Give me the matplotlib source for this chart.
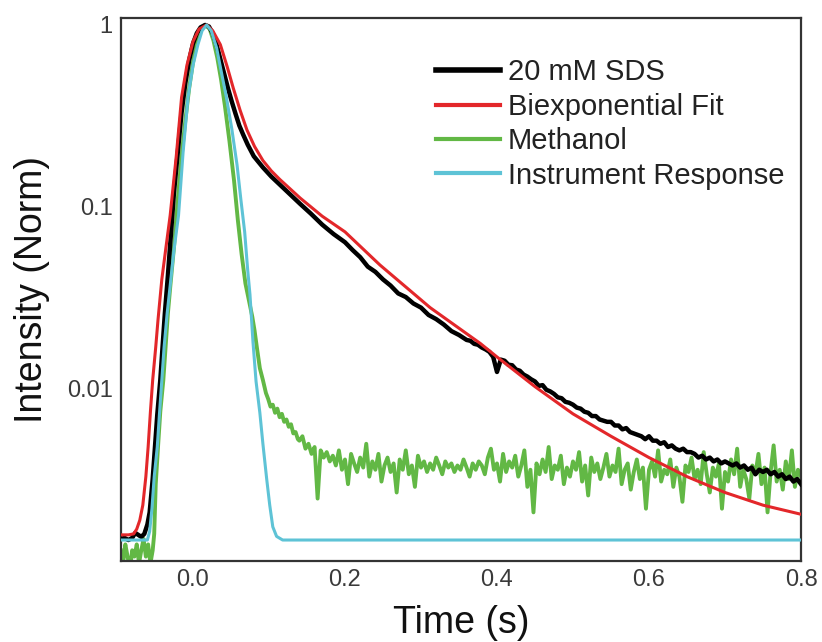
import numpy as np
import matplotlib
matplotlib.use("Agg")
import matplotlib.pyplot as plt
from matplotlib.ticker import FixedLocator, FixedFormatter, NullLocator

plt.rcParams['font.family'] = ['Liberation Sans', 'DejaVu Sans']

# ---------------- data ----------------
# 20 mM SDS (black): rise + early decay
sds_t_front = [-0.095, -0.090, -0.085, -0.080, -0.076, -0.072, -0.068, -0.064, -0.060, -0.057,
               -0.053, -0.050, -0.047, -0.043, -0.040, -0.037, -0.033, -0.030, -0.025, -0.020,
               -0.015, -0.010, -0.005, 0.000, 0.005, 0.010, 0.016, 0.021, 0.026, 0.031,
               0.036, 0.041, 0.046, 0.051, 0.056, 0.061, 0.066, 0.072, 0.080, 0.092,
               0.103, 0.114, 0.127, 0.141, 0.155, 0.170, 0.185]
sds_i_front = [0.00150, 0.00152, 0.00148, 0.00152, 0.00162, 0.00158, 0.00154, 0.00160, 0.00180, 0.0021,
               0.0032, 0.0048, 0.0072, 0.0112, 0.017, 0.026, 0.042, 0.062, 0.12, 0.20,
               0.33, 0.48, 0.64, 0.79, 0.90, 0.97, 1.0, 0.98, 0.90, 0.78,
               0.65, 0.54, 0.45, 0.38, 0.325, 0.28, 0.25, 0.22, 0.19, 0.165,
               0.147, 0.133, 0.118, 0.104, 0.092, 0.080, 0.071]
sds_t_mid = [0.20, 0.21, 0.22, 0.23, 0.24, 0.25, 0.26, 0.27, 0.28, 0.29, 0.30, 0.31, 0.32, 0.33, 0.34]
sds_i_mid = [0.064, 0.058, 0.053, 0.047, 0.044, 0.040, 0.037, 0.0335, 0.032, 0.0295,
             0.028, 0.0255, 0.0242, 0.0226, 0.0208]
# tail sampled every 5 ms from 0.35 s to 0.80 s
sds_i_tail = [0.0198, 0.0192, 0.0186, 0.0184, 0.0177, 0.0175, 0.0169, 0.0165, 0.0160, 0.0150,
              0.0124, 0.0145, 0.0143, 0.0136, 0.0135, 0.0128, 0.0126, 0.0120, 0.0117, 0.0113,
              0.0110, 0.0104, 0.0105, 0.0099, 0.0097, 0.0094, 0.0090, 0.0089, 0.0085, 0.0084,
              0.0082, 0.0079, 0.0078, 0.0075, 0.0074, 0.0071, 0.0071, 0.0068, 0.0067, 0.0066,
              0.0066, 0.0063, 0.0063, 0.0060, 0.0061, 0.0058, 0.0057, 0.0056, 0.0055, 0.0053,
              0.0055, 0.0052, 0.0052, 0.0050, 0.0051, 0.0048, 0.0049, 0.0047, 0.0046, 0.0047,
              0.0045, 0.0045, 0.0044, 0.0042, 0.0043, 0.0041, 0.0042, 0.0040, 0.0041, 0.0039,
              0.0040, 0.0039, 0.0038, 0.0039, 0.0037, 0.0038, 0.0036, 0.0037, 0.0034, 0.0036,
              0.0035, 0.0036, 0.0034, 0.0035, 0.0033, 0.0034, 0.0032, 0.0033, 0.0031, 0.0032,
              0.0030]

# Biexponential fit (red)
fit_t = [-0.095, -0.085, -0.078, -0.074, -0.070, -0.066, -0.062, -0.059, -0.056, -0.053,
         -0.049, -0.046, -0.041, -0.036, -0.030, -0.022, -0.015, -0.008, 0.000, 0.008,
         0.018, 0.026, 0.036, 0.045, 0.053, 0.062, 0.071, 0.081, 0.092, 0.103,
         0.114, 0.141, 0.170, 0.200, 0.246, 0.312, 0.378, 0.400, 0.450, 0.500,
         0.550, 0.600, 0.650, 0.700, 0.750, 0.800]
fit_i = [0.00158, 0.00158, 0.00160, 0.00170, 0.0019, 0.0023, 0.0033, 0.0048, 0.0075, 0.0112,
         0.017, 0.024, 0.040, 0.058, 0.090, 0.19, 0.40, 0.60, 0.81, 0.95,
         1.0, 0.93, 0.78, 0.59, 0.45, 0.34, 0.265, 0.215, 0.180, 0.158,
         0.142, 0.112, 0.089, 0.073, 0.048, 0.028, 0.0178, 0.0150, 0.0103, 0.0073,
         0.0055, 0.0042, 0.0033, 0.0027, 0.0023, 0.00205]

# Methanol (green): baseline + rise + fast decay
meoh_t_front = [-0.095, -0.092, -0.089, -0.086, -0.083, -0.080, -0.077, -0.074, -0.071, -0.068,
                -0.065, -0.062, -0.059, -0.056, -0.053, -0.051, -0.049, -0.046, -0.043, -0.039,
                -0.036, -0.033, -0.030, -0.025, -0.020, -0.015, -0.010, -0.005, 0.000, 0.005,
                0.010, 0.016, 0.022, 0.027, 0.032, 0.037, 0.042, 0.048, 0.054, 0.059,
                0.064, 0.069, 0.074, 0.078, 0.081, 0.084, 0.088, 0.092, 0.096, 0.099,
                0.102, 0.105, 0.108, 0.111, 0.114, 0.117, 0.120, 0.123, 0.126, 0.129,
                0.132, 0.135, 0.138]
meoh_i_front = [0.0013, 0.0011, 0.0014, 0.0012, 0.0010, 0.0013, 0.0012, 0.0014, 0.0011, 0.0013,
                0.0015, 0.0012, 0.0014, 0.0011, 0.0013, 0.0016, 0.0030, 0.0048, 0.0075, 0.0112,
                0.017, 0.026, 0.036, 0.060, 0.11, 0.19, 0.30, 0.45, 0.62, 0.80,
                0.93, 1.0, 0.95, 0.82, 0.66, 0.50, 0.36, 0.23, 0.14, 0.085,
                0.055, 0.038, 0.030, 0.025, 0.021, 0.017, 0.0130, 0.0112, 0.0095, 0.0088,
                0.0080, 0.0082, 0.0074, 0.0078, 0.0070, 0.0073, 0.0066, 0.0068, 0.0062, 0.0064,
                0.0057, 0.0058, 0.0053]
# tail sampled every 4 ms from 0.14 s to 0.80 s
meoh_i_tail = [0.0052, 0.0055, 0.0047, 0.0050, 0.0044, 0.0048, 0.0025, 0.0046, 0.0042, 0.0045,
               0.0040, 0.0043, 0.0038, 0.0046, 0.0036, 0.0041, 0.0030, 0.0044, 0.0039, 0.0035,
               0.0042, 0.0037, 0.0050, 0.0033, 0.0040, 0.0036, 0.0044, 0.0031, 0.0038, 0.0042,
               0.0035, 0.0039, 0.0027, 0.0041, 0.0036, 0.0046, 0.0034, 0.0038, 0.0029, 0.0043,
               0.0037, 0.0040, 0.0035, 0.0039, 0.0036, 0.0042, 0.0038, 0.0034, 0.0040, 0.0037,
               0.0039, 0.0035, 0.0038, 0.0036, 0.0041, 0.0037, 0.0033, 0.0039, 0.0036, 0.0040,
               0.0038, 0.0034, 0.0042, 0.0047, 0.0036, 0.0039, 0.0031, 0.0044, 0.0035, 0.0040,
               0.0037, 0.0043, 0.0033, 0.0038, 0.0046, 0.0029, 0.0036, 0.0021, 0.0039, 0.0034,
               0.0041, 0.0035, 0.0048, 0.0032, 0.0038, 0.0036, 0.0043, 0.0030, 0.0037, 0.0033,
               0.0040, 0.0036, 0.0045, 0.0031, 0.0038, 0.0026, 0.0042, 0.0035, 0.0039, 0.0032,
               0.0037, 0.0044, 0.0033, 0.0038, 0.0035, 0.0047, 0.0030, 0.0036, 0.0039, 0.0028,
               0.0035, 0.0041, 0.0032, 0.0037, 0.0022, 0.0036, 0.0040, 0.0033, 0.0046, 0.0031,
               0.0036, 0.0034, 0.0041, 0.0029, 0.0037, 0.0033, 0.0024, 0.0038, 0.0035, 0.0042,
               0.0032, 0.0036, 0.0030, 0.0045, 0.0034, 0.0027, 0.0037, 0.0033, 0.0039, 0.0022,
               0.0035, 0.0031, 0.0041, 0.0034, 0.0047, 0.0029, 0.0036, 0.0032, 0.0025, 0.0038,
               0.0034, 0.0044, 0.0030, 0.0037, 0.0021, 0.0035, 0.0049, 0.0031, 0.0036, 0.0028,
               0.0040, 0.0032, 0.0046, 0.0029, 0.0036, 0.0033]

# Instrument response (cyan)
irf_t = [-0.095, -0.060, -0.057, -0.054, -0.051, -0.047, -0.044, -0.041, -0.038, -0.034,
         -0.030, -0.025, -0.019, -0.013, -0.0065, 0.000, 0.0065, 0.012, 0.018, 0.024,
         0.031, 0.037, 0.044, 0.051, 0.058, 0.063, 0.068, 0.072, 0.075, 0.079,
         0.083, 0.088, 0.092, 0.097, 0.101, 0.105, 0.110, 0.118, 0.800]
irf_i = [0.00148, 0.00148, 0.00165, 0.0022, 0.0033, 0.0048, 0.0074, 0.0112, 0.017, 0.026,
         0.037, 0.058, 0.09, 0.20, 0.40, 0.60, 0.78, 0.93, 1.0, 0.93,
         0.75, 0.56, 0.40, 0.27, 0.17, 0.11, 0.073, 0.045, 0.033, 0.018,
         0.011, 0.0074, 0.0050, 0.0032, 0.0023, 0.00175, 0.00155, 0.00148, 0.00148]

labels = ["20 mM SDS", "Biexponential Fit", "Methanol", "Instrument Response"]
x_ticks = [0.0, 0.2, 0.4, 0.6, 0.8]
x_tick_labels = ["0.0", "0.2", "0.4", "0.6", "0.8"]
y_ticks = [0.01, 0.1, 1]
y_tick_labels = ["0.01", "0.1", "1"]

# ---------------- assemble series ----------------
sds_t = np.concatenate([sds_t_front, sds_t_mid, np.linspace(0.35, 0.80, len(sds_i_tail))])
sds_i = np.concatenate([sds_i_front, sds_i_mid, sds_i_tail])
meoh_t = np.concatenate([meoh_t_front, np.linspace(0.14, 0.80, len(meoh_i_tail))])
meoh_i = np.concatenate([meoh_i_front, meoh_i_tail])

# ---------------- plot ----------------
fig = plt.figure(figsize=(8.22, 6.42), dpi=100)
ax = fig.add_axes([121/822, 1 - 561/642, (801 - 121)/822, (561 - 18)/642])

c_black = "#000000"
c_red = "#e3272a"
c_green = "#62b845"
c_cyan = "#5ec3d6"

ax.plot(sds_t, sds_i, color=c_black, lw=3.2, label=labels[0], zorder=3)
ax.plot(fit_t, fit_i, color=c_red, lw=2.2, label=labels[1], zorder=4)
ax.plot(meoh_t, meoh_i, color=c_green, lw=2.8, label=labels[2], zorder=2)
ax.plot(irf_t, irf_i, color=c_cyan, lw=2.2, label=labels[3], zorder=5)

ax.set_yscale("log")
ax.set_xlim(-0.0947, 0.8)
ax.set_ylim(0.001135, 1.092)

ax.xaxis.set_major_locator(FixedLocator(x_ticks))
ax.xaxis.set_major_formatter(FixedFormatter(x_tick_labels))
ax.yaxis.set_major_locator(FixedLocator(y_ticks))
ax.yaxis.set_major_formatter(FixedFormatter(y_tick_labels))
ax.yaxis.set_minor_locator(NullLocator())
ax.xaxis.set_minor_locator(NullLocator())

ax.tick_params(axis="both", length=0, labelsize=17, labelcolor="#3a3a3a")
ax.tick_params(axis="x", pad=6)
ax.tick_params(axis="y", pad=6)

for s in ax.spines.values():
    s.set_color("#333333")
    s.set_linewidth(1.6)

ax.set_xlabel("Time (s)", fontsize=27, color="#111111", labelpad=10)
ax.set_ylabel("Intensity (Norm)", fontsize=27, color="#111111", labelpad=12)

leg = ax.legend(loc="upper right", bbox_to_anchor=(0.993, 0.947), frameon=False,
                fontsize=21, handlelength=2.2, handletextpad=0.28, labelspacing=0.22,
                borderaxespad=0.0)
for line in leg.get_lines():
    line.set_linewidth(3.0)
leg.get_lines()[0].set_linewidth(4.0)
for t in leg.get_texts():
    t.set_color("#222222")

fig.savefig("out.png", dpi=100)
